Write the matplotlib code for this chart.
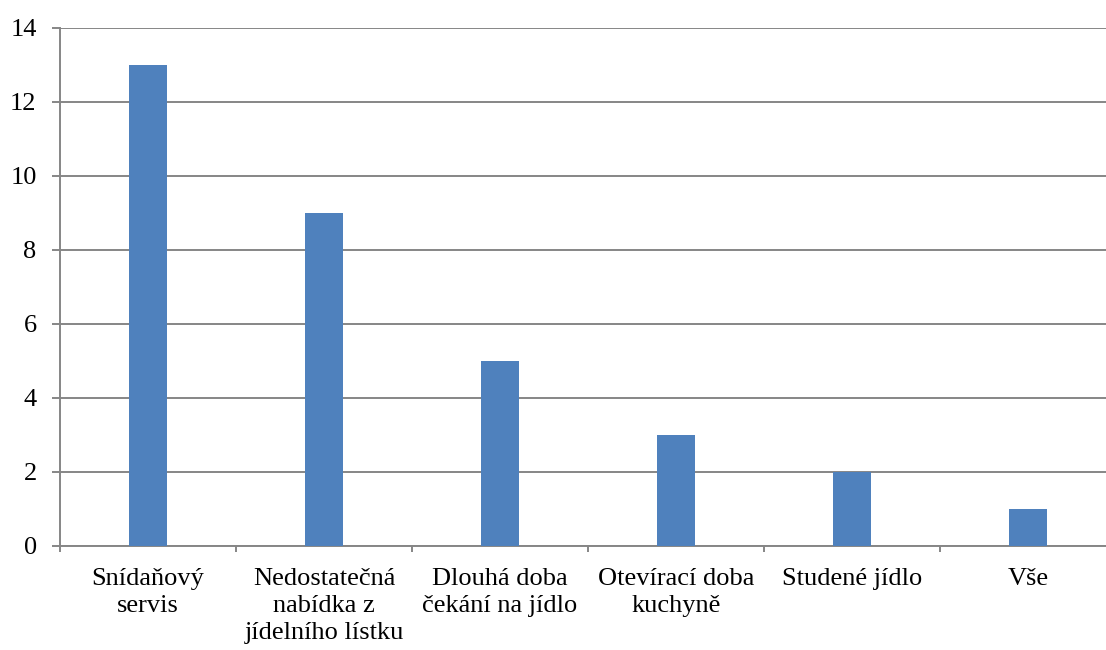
import numpy as np
import matplotlib
matplotlib.use("Agg")
import matplotlib.pyplot as plt

# Data
categories = ["Snídaňový\nservis",
              "Nedostatečná\nnabídka z\njídelního lístku",
              "Dlouhá doba\nčekání na jídlo",
              "Otevírací doba\nkuchyně",
              "Studené jídlo",
              "Vše"]
values = [13, 9, 5, 3, 2, 1]
yticks = [0, 2, 4, 6, 8, 10, 12, 14]

plt.rcParams['font.family'] = ['Liberation Serif', 'DejaVu Serif']

fig = plt.figure(figsize=(11.06, 6.5), dpi=100)
ax = fig.add_axes([60/1106, 1-546/650, 1056/1106, 518/650])

x = np.arange(len(categories))
ax.bar(x, values, width=0.22, color="#4F81BD", zorder=3)

ax.set_xlim(-0.5, len(categories) - 0.5)
ax.set_ylim(0, 14)
ax.set_yticks(yticks)
ax.set_yticklabels([str(t) for t in yticks], fontsize=19)

# category labels centred, ticks at category boundaries
ax.set_xticks(x)
ax.set_xticklabels(categories, fontsize=19, linespacing=1.3, va="top")
ax.tick_params(axis="x", which="major", length=0, pad=16)
ax.set_xticks(np.arange(len(categories) + 1) - 0.5, minor=True)
ax.tick_params(axis="x", which="minor", length=4.5, width=1.4, color="#868686", direction="out")
ax.tick_params(axis="y", length=5.8, width=1.4, color="#868686", pad=11)

ax.yaxis.grid(True, color="#868686", linewidth=1.4, zorder=0)
ax.set_axisbelow(True)

for side in ["top", "right"]:
    ax.spines[side].set_visible(False)
for side in ["left", "bottom"]:
    ax.spines[side].set_color("#868686")
    ax.spines[side].set_linewidth(1.4)

fig.savefig("out.png", dpi=100)
